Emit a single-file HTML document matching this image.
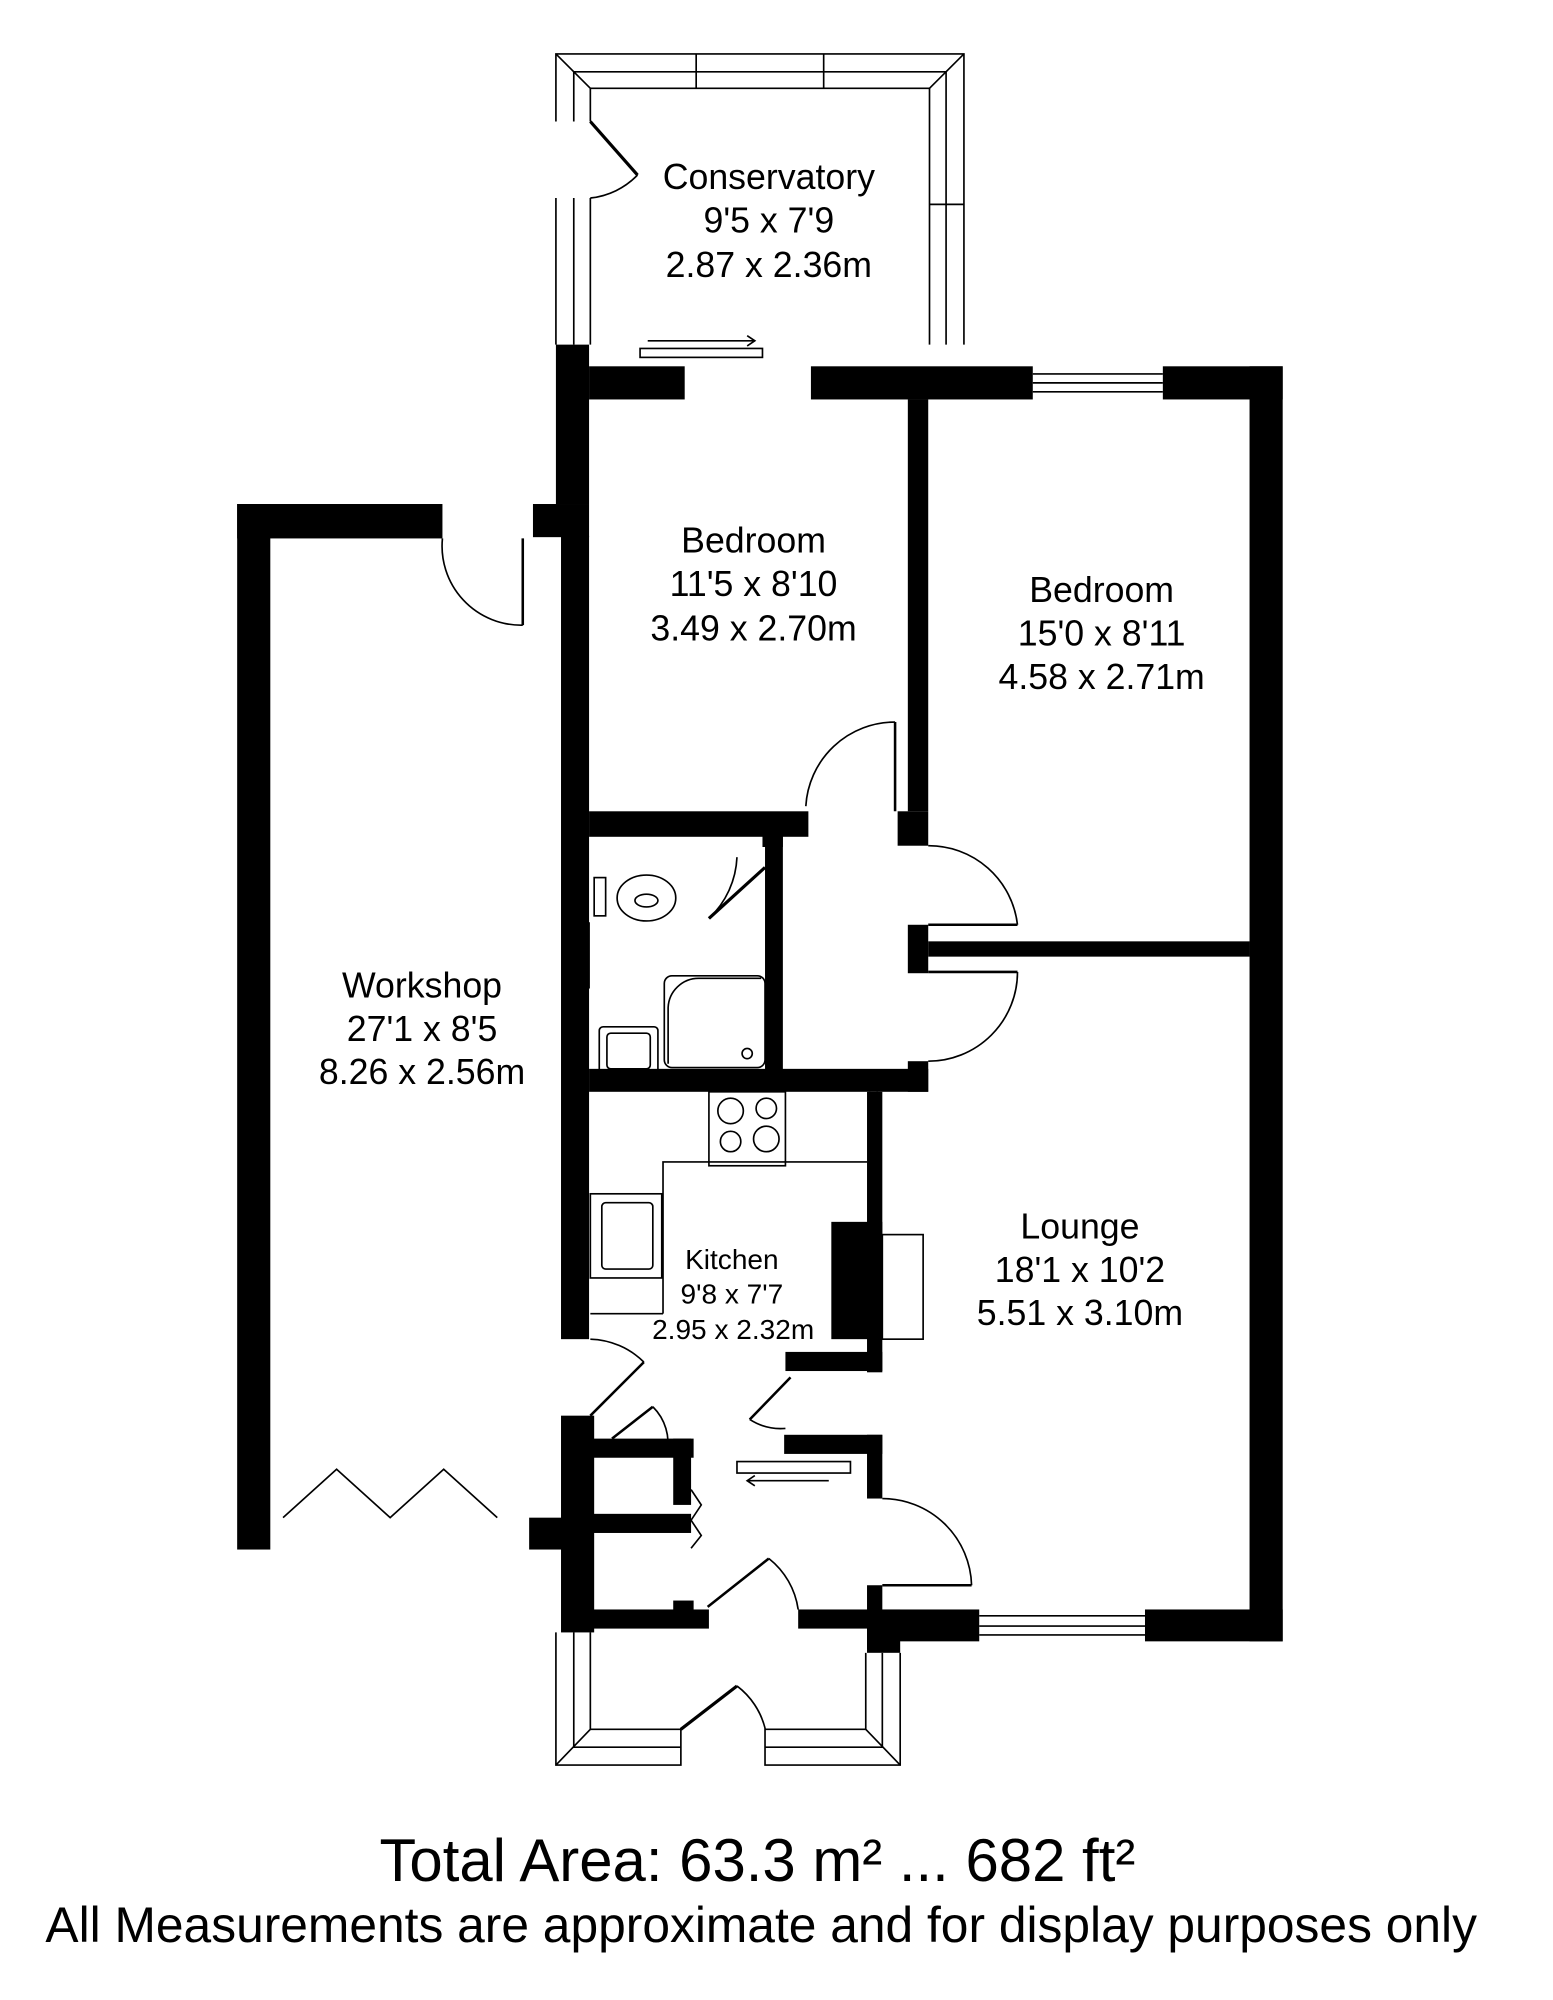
<!DOCTYPE html>
<html><head><meta charset="utf-8"><style>
html,body{margin:0;padding:0;background:#fff;}
svg{display:block;}
text{font-family:"Liberation Sans",Arial,sans-serif;fill:#000;}
</style></head><body>
<svg width="1553" height="2000" viewBox="0 0 1218 1568" xmlns="http://www.w3.org/2000/svg">
<rect width="1218" height="1568" fill="#fff"/>
<g fill="none" stroke="#000" stroke-width="1.3">
<polyline points="436,95 436,42 756,42 756,270"/>
<polyline points="450,95 450,56 742,56 742,270"/>
<polyline points="463,95 463,69 729,69 729,270"/>
<line x1="436" y1="42" x2="463" y2="69"/><line x1="756" y1="42" x2="729" y2="69"/>
<line x1="546" y1="42" x2="546" y2="69"/><line x1="646" y1="42" x2="646" y2="69"/>
<polyline points="436,155 436,270"/><polyline points="450,155 450,270"/><polyline points="463,155 463,270"/>
<line x1="729" y1="160" x2="756" y2="160"/>
<line x1="463" y1="95" x2="500" y2="137" stroke-width="2.5"/>
<path d="M463,155 A60,60 0 0 0 500,137"/>
<rect x="502" y="273" width="96" height="7"/>
<line x1="508" y1="267" x2="592" y2="267"/><polyline points="586,263 592,267 586,271"/>
<line x1="810" y1="293" x2="912" y2="293"/><line x1="810" y1="300" x2="912" y2="300"/><line x1="810" y1="307" x2="912" y2="307"/>
<line x1="768" y1="1267" x2="898" y2="1267"/><line x1="768" y1="1275" x2="898" y2="1275"/><line x1="768" y1="1282" x2="898" y2="1282"/>
<line x1="455" y1="723" x2="455" y2="775"/><line x1="462" y1="723" x2="462" y2="775"/>
<line x1="682" y1="856" x2="682" y2="930"/><line x1="688" y1="856" x2="688" y2="930"/>
<path d="M347,422 A62,62 0 0 0 410,490"/><line x1="410" y1="422" x2="410" y2="490" stroke-width="2"/>
<path d="M632,632 A70,70 0 0 1 702,566"/><line x1="702" y1="566" x2="702" y2="636" stroke-width="2"/>
<path d="M728,663 A70,70 0 0 1 798,725"/><line x1="728" y1="725" x2="798" y2="725" stroke-width="2"/>
<path d="M728,832 A70,70 0 0 0 798,762"/><line x1="728" y1="762" x2="798" y2="762" stroke-width="2"/>
<path d="M556,720 L600,680" stroke-width="2.5"/><path d="M556,720 A70,70 0 0 0 578,672"/>
<path d="M463,1050 A62,62 0 0 1 505,1068"/><line x1="505" y1="1068" x2="463" y2="1110" stroke-width="2"/>
<path d="M588,1113 L620,1080" stroke-width="2"/><path d="M588,1113 A45,45 0 0 0 616,1120"/>
<path d="M480,1128 L512,1103" stroke-width="2"/><path d="M512,1103 A40,40 0 0 1 523,1140"/>
<path d="M692,1175 A70,70 0 0 1 762,1243"/><line x1="692" y1="1243" x2="762" y2="1243" stroke-width="2"/>
<path d="M555,1260 L603,1222" stroke-width="2"/><path d="M603,1222 A62,62 0 0 1 626,1262"/>
<polyline points="542,1168 550,1180 542,1192 550,1204 542,1214"/>
<rect x="578" y="1146" width="89" height="9"/>
<line x1="586" y1="1161" x2="650" y2="1161"/><polyline points="592,1157 586,1161 592,1165"/>
<polyline points="222,1190 264,1152 306,1190 348,1152 390,1190"/>
<polyline points="436,1280 436,1384 534,1384 534,1355"/>
<polyline points="450,1280 450,1370 534,1370"/>
<polyline points="463,1280 463,1356 534,1356"/>
<line x1="436" y1="1384" x2="463" y2="1356"/>
<polyline points="600,1355 600,1384 706,1384 706,1296"/>
<polyline points="600,1370 692,1370 692,1296"/>
<polyline points="600,1356 679,1356 679,1296"/>
<line x1="706" y1="1384" x2="679" y2="1356"/>
<line x1="534" y1="1356" x2="578" y2="1322" stroke-width="2.5"/>
<path d="M578,1322 A60,60 0 0 1 600,1355"/>
<rect x="470" y="805" width="46" height="36" rx="3"/><rect x="476" y="810" width="34" height="28" rx="3"/>
<rect x="521" y="765" width="79" height="72" rx="6"/><path d="M524,834 L524,790 A24,24 0 0 1 548,767 L597,767"/>
<circle cx="586" cy="826" r="4"/>
<rect x="466" y="688" width="9" height="30"/><ellipse cx="507" cy="704" rx="23" ry="18"/><ellipse cx="507" cy="706" rx="9" ry="5"/>
<rect x="556" y="856" width="60" height="58"/>
<circle cx="573" cy="871" r="10"/><circle cx="601" cy="869" r="8"/><circle cx="573" cy="895" r="8"/><circle cx="601" cy="893" r="10"/>
<polyline points="520,1030 520,911 680,911"/>
<rect x="463" y="936" width="56" height="66"/><rect x="472" y="943" width="40" height="52" rx="3"/>
<line x1="463" y1="1030" x2="520" y2="1030"/>
<rect x="692" y="968" width="32" height="82"/>
</g>
<g fill="#000">
<rect x="436" y="270" width="26" height="125"/>
<rect x="418" y="395" width="44" height="26"/>
<rect x="440" y="420" width="22" height="630"/>
<rect x="440" y="1110" width="26" height="170"/>
<rect x="462" y="287" width="75" height="26"/>
<rect x="636" y="287" width="174" height="26"/>
<rect x="912" y="287" width="94" height="26"/>
<rect x="980" y="287" width="26" height="1000"/>
<rect x="680" y="1262" width="88" height="25"/><rect x="898" y="1262" width="108" height="25"/>
<rect x="712" y="313" width="16" height="323"/><rect x="704" y="636" width="24" height="27"/>
<rect x="712" y="725" width="16" height="38"/>
<rect x="728" y="738" width="252" height="12"/>
<rect x="186" y="395" width="161" height="27"/><rect x="186" y="395" width="26" height="820"/>
<rect x="415" y="1190" width="47" height="25"/>
<rect x="462" y="636" width="172" height="20"/>
<rect x="600" y="652" width="14" height="190"/>
<rect x="598" y="652" width="16" height="12"/>
<rect x="462" y="838" width="266" height="18"/><rect x="712" y="832" width="16" height="24"/>
<rect x="680" y="856" width="12" height="220"/>
<rect x="652" y="958" width="40" height="92"/>
<rect x="616" y="1060" width="76" height="15"/>
<rect x="615" y="1125" width="77" height="15"/>
<rect x="680" y="1125" width="12" height="50"/>
<rect x="680" y="1243" width="12" height="50"/>
<rect x="680" y="1262" width="26" height="34"/>
<rect x="462" y="1128" width="82" height="15"/>
<rect x="528" y="1128" width="14" height="52"/>
<rect x="462" y="1187" width="80" height="15"/>
<rect x="456" y="1262" width="100" height="15"/><rect x="528" y="1255" width="16" height="10"/>
<rect x="626" y="1262" width="54" height="15"/>
</g>
<g text-anchor="middle" font-size="28">
<text x="603" y="148">Conservatory</text><text x="603" y="182">9'5 x 7'9</text><text x="603" y="217">2.87 x 2.36m</text>
<text x="591" y="433">Bedroom</text><text x="591" y="467">11'5 x 8'10</text><text x="591" y="502">3.49 x 2.70m</text>
<text x="864" y="472">Bedroom</text><text x="864" y="506">15'0 x 8'11</text><text x="864" y="540">4.58 x 2.71m</text>
<text x="331" y="782">Workshop</text><text x="331" y="816">27'1 x 8'5</text><text x="331" y="850">8.26 x 2.56m</text>
<text x="847" y="971">Lounge</text><text x="847" y="1005">18'1 x 10'2</text><text x="847" y="1039">5.51 x 3.10m</text>
</g>
<g text-anchor="middle" font-size="22">
<text x="574" y="995">Kitchen</text><text x="574" y="1022">9'8 x 7'7</text><text x="575" y="1050">2.95 x 2.32m</text>
</g>
<text x="594" y="1475" text-anchor="middle" font-size="47">Total Area: 63.3 m²  ...  682 ft²</text>
<text x="597" y="1523" text-anchor="middle" font-size="39">All Measurements are approximate and for display purposes only</text>
</svg>
</body></html>
